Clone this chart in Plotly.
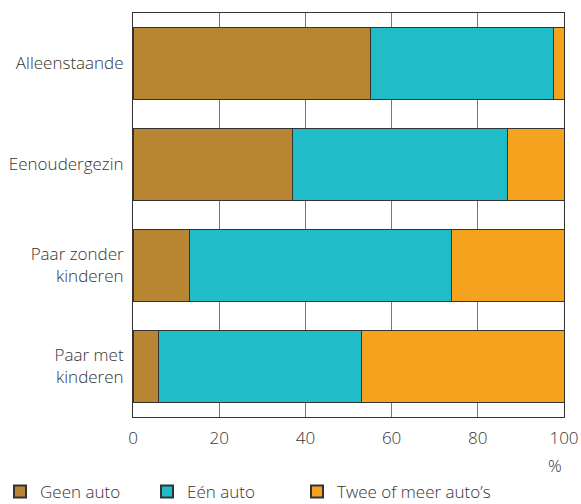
import plotly.graph_objects as go

# Autobezit naar huishoudtype (%)
categories = ['Alleenstaande', 'Eenoudergezin', 'Paar zonder<br>kinderen', 'Paar met<br>kinderen']
geen_auto = [55, 37, 13, 6]
een_auto = [42.5, 50, 61, 47]
twee_of_meer = [2.5, 13, 26, 47]

series = [
    ('Geen auto', geen_auto, '#B88532'),
    ('Eén auto', een_auto, '#20BCC8'),
    ("Twee of meer auto’s", twee_of_meer, '#F5A31E'),
]
legend_ids = ['legend', 'legend2', 'legend3']
legend_x = [0, 147, 297]  # left edge of each legend entry, px

fig = go.Figure()
for (name, vals, color), lid in zip(series, legend_ids):
    fig.add_trace(go.Bar(
        y=categories, x=vals, name=name, orientation='h', legend=lid,
        marker=dict(color=color, line=dict(color='#333333', width=1)),
        hoverinfo='x+name', showlegend=True,
    ))

font = dict(family='Open Sans, Lato, sans-serif', size=17, color='#333333', weight=300)

fig.update_layout(
    barmode='stack',
    bargap=0.28,
    showlegend=True,
    width=581, height=504,
    margin=dict(l=133, r=17, t=13, b=87),
    paper_bgcolor='white', plot_bgcolor='white',
    font=font,
    xaxis=dict(range=[0, 100], tickvals=[0, 20, 40, 60, 80, 100],
               showgrid=True, gridcolor='#777777', gridwidth=1,
               showline=True, linecolor='#333333', mirror=True,
               zeroline=False, ticks='', ticklabelstandoff=6, automargin=False),
    yaxis=dict(autorange='reversed', showgrid=False,
               showline=True, linecolor='#333333', mirror=True,
               ticks='', ticklabelstandoff=5, automargin=False),
    annotations=[dict(text='%', x=1, y=-49 / 404, xref='paper', yref='paper',
                      xanchor='right', yanchor='middle', showarrow=False, font=font)],
)

# one legend per series so the entries sit at fixed spacing
for lid, lx in zip(legend_ids, legend_x):
    fig.update_layout({lid: dict(orientation='h', xref='container', yref='container',
                                 x=lx / 581, xanchor='left', y=12 / 504, yanchor='middle',
                                 font=font, itemsizing='constant', itemwidth=30,
                                 visible=True)})

# drop the default 8px body margin so the figure fills the window
fig.write_html('out.html', config={'displayModeBar': False},
               post_script="document.body.style.margin = '0';")
